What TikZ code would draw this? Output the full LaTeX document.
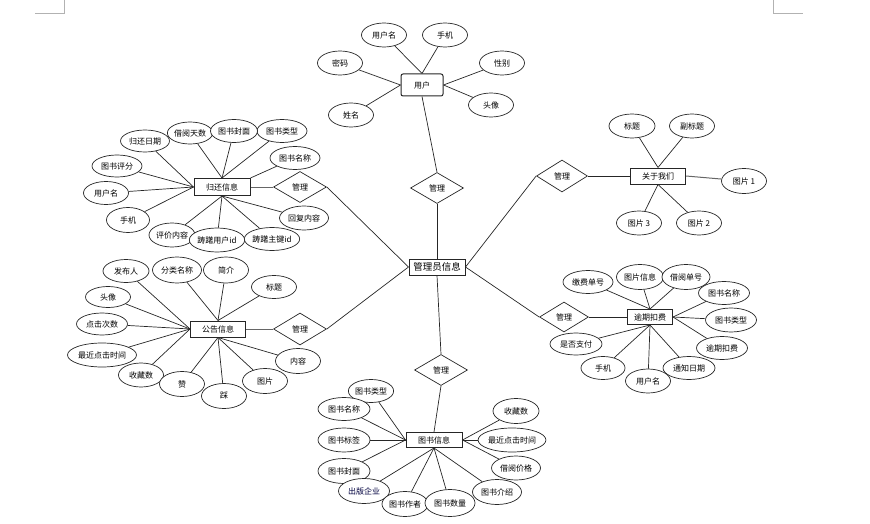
\documentclass[tikz,border=0pt]{standalone}
\usepackage{fontspec}
\newfontfamily\cjk{Noto Sans CJK SC}
\usetikzlibrary{shapes.geometric,backgrounds}
\begin{document}
\begin{tikzpicture}[x=1pt,y=-1pt,
 attr/.style={ellipse,draw=black!85,line width=0.7pt,fill=white,inner sep=0pt,minimum width=45pt,minimum height=24pt,font=\cjk\fontsize{8}{9}\selectfont},
 ent/.style={rectangle,draw=black!85,line width=1pt,fill=white,inner sep=0pt,minimum width=56pt,minimum height=17pt,font=\cjk\fontsize{8}{9}\selectfont},
 rel/.style={diamond,draw=black!85,line width=0.7pt,fill=white,inner sep=0pt,minimum width=53pt,minimum height=31pt,font=\cjk\fontsize{8}{9}\selectfont},
 ln/.style={draw=black!85,line width=0.7pt},
 cornermark/.style={draw=black!30,line width=0.6pt}]
\useasboundingbox (0,0) rectangle (870,524);
% page corner marks
\draw[cornermark] (35,13) -- (64,13) -- (64,0);
\draw[cornermark] (773,0) -- (773,13) -- (803,13);

% centre
\node[ent,minimum width=56pt,minimum height=16pt,font=\cjk\fontsize{9.5}{10}\selectfont] (gl) at (437,267) {管理员信息};

% user cluster
\node[ent,rounded corners=2pt,minimum width=42pt,minimum height=22pt] (yh) at (422,85) {用户};
\node[attr] (u1) at (384,35) {用户名};
\node[attr] (u2) at (445,35) {手机};
\node[attr] (u3) at (340,63) {密码};
\node[attr] (u4) at (502,63) {性别};
\node[attr] (u5) at (491,105) {头像};
\node[attr] (u6) at (351,115) {姓名};
\node[rel] (r1) at (437,188) {管理};

% return-info cluster
\node[ent] (gh) at (222,187) {归还信息};
\node[rel] (rgh) at (300,187) {管理};
\node[attr,minimum width=49pt,minimum height=22pt] (g1) at (145,141) {归还日期};
\node[attr,minimum height=22pt] (g2) at (190,133) {借阅天数};
\node[attr,minimum width=50pt,minimum height=23pt] (g4) at (282,131) {图书类型};
\node[attr,minimum width=47pt,minimum height=23pt] (g3) at (234,131) {图书封面};
\node[attr,minimum width=50pt,minimum height=23pt] (g5) at (295,158) {图书名称};
\node[attr,minimum width=50pt,minimum height=22pt] (g6) at (117,166) {图书评分};
\node[attr,minimum height=23pt] (g7) at (106,193) {用户名};
\node[attr,minimum width=43pt,minimum height=25pt] (g8) at (128,220) {手机};
\node[attr,minimum width=46pt] (g9) at (172,235) {评价内容};
\node[attr,minimum width=55pt,minimum height=23pt] (g11) at (272,239) {踌躇主键id};
\node[attr,minimum width=51pt] (g10) at (217,240) {踌躇用户id};
\node[attr,minimum width=49pt] (g12) at (304,218) {回复内容};

% about-us cluster
\node[ent,minimum width=55pt,minimum height=16pt] (gy) at (658,176) {关于我们};
\node[rel,minimum width=51pt,minimum height=32pt] (rgy) at (562,176) {管理};
\node[attr,minimum width=46pt] (y1) at (632,126) {标题};
\node[attr] (y2) at (692,126) {副标题};
\node[attr,minimum height=25pt] (y3) at (744,181) {图片 1};
\node[attr] (y4) at (639,223) {图片 3};
\node[attr] (y5) at (699,223) {图片 2};

% notice cluster
\node[ent,minimum width=55pt,minimum height=16pt] (gg) at (218,329) {公告信息};
\node[rel,minimum height=32pt] (rgg) at (300,329) {管理};
\node[attr,minimum width=46pt,minimum height=23pt] (n1) at (126,271) {发布人};
\node[attr,minimum width=49pt,minimum height=26pt] (n2) at (177,270) {分类名称};
\node[attr,minimum height=26pt] (n3) at (226,270) {简介};
\node[attr,minimum height=23pt] (n4) at (274,287) {标题};
\node[attr,minimum height=21pt] (n5) at (108,297) {头像};
\node[attr,minimum width=51pt,minimum height=22pt] (n6) at (102,324) {点击次数};
\node[attr,minimum width=69pt] (n7) at (102,355) {最近点击时间};
\node[attr,minimum height=25pt] (n8) at (298,361) {内容};
\node[attr] (n9) at (141,375) {收藏数};
\node[attr,minimum height=25pt] (n10) at (182,384) {赞};
\node[attr,minimum height=25pt] (n11) at (224,396) {踩};
\node[attr,minimum height=25pt] (n12) at (265,381) {图片};

% overdue cluster
\node[ent,minimum width=45pt,minimum height=15pt] (yq) at (650,317) {逾期扣费};
\node[rel,minimum width=49pt,minimum height=30pt] (ryq) at (564,317) {管理};
\node[attr,minimum width=50pt,minimum height=23pt] (q1) at (588,282) {缴费单号};
\node[attr,minimum width=47pt,minimum height=25pt] (q2) at (640,277) {图片信息};
\node[attr,minimum width=48pt,minimum height=25pt] (q3) at (686,277) {借阅单号};
\node[attr,minimum width=51pt,minimum height=23pt] (q4) at (724,293) {图书名称};
\node[attr,minimum width=51pt] (q5) at (731,320) {图书类型};
\node[attr,minimum width=52pt,minimum height=22pt] (q6) at (576,344) {是否支付};
\node[attr,minimum width=51pt,minimum height=23pt] (q7) at (722,348) {逾期扣费};
\node[attr,minimum width=44pt,minimum height=23pt] (q8) at (603,368) {手机};
\node[attr,minimum width=52pt,minimum height=23pt] (q9) at (689,368) {通知日期};
\node[attr] (q10) at (648,381) {用户名};

% book cluster
\node[ent,minimum width=56pt,minimum height=15pt] (ts) at (434,440) {图书信息};
\node[rel] (rts) at (441,370) {管理};
\node[attr,minimum width=42pt,minimum height=23pt] (t1) at (371,391) {图书类型};
\node[attr,minimum width=52pt,minimum height=23pt] (t2) at (344,409) {图书名称};
\node[attr,minimum width=46pt,minimum height=25pt] (t3) at (516,411) {收藏数};
\node[attr,minimum width=52pt] (t4) at (344,440) {图书标签};
\node[attr,minimum width=58pt] (t5) at (512,440) {最近点击时间};
\node[attr,minimum width=49pt] (t6) at (516,468) {借阅价格};
\node[attr,minimum width=52pt,minimum height=25pt] (t7) at (344,471) {图书封面};
\node[attr,minimum width=51pt,minimum height=25pt,text=blue!25!black] (t8) at (364,491) {出版企业};
\node[attr,minimum width=49pt,minimum height=25pt] (t9) at (497,492) {图书介绍};
\node[attr,minimum width=46pt,minimum height=25pt] (t10) at (405,504) {图书作者};
\node[attr,minimum width=50pt,minimum height=27pt] (t11) at (450,503) {图书数量};

\begin{scope}[on background layer]
% centre to relations
\draw[ln] (yh.south) -- (r1.north);
\draw[ln] (r1.south) -- (gl.north);
\draw[ln] (gl.west) -- (rgh.east);
\draw[ln] (gl.west) -- (rgg.east);
\draw[ln] (gl.east) -- (rgy.west);
\draw[ln] (gl.east) -- (ryq.west);
\draw[ln] (gl.south) -- (rts.north);
\draw[ln,line width=1pt,draw=black!60] (gh.east) -- (rgh.west);
\draw[ln,line width=1pt,draw=black!60] (gg.east) -- (rgg.west);
\draw[ln] (gy.west) -- (rgy.east);
\draw[ln] (yq.west) -- (ryq.east);
\draw[ln] (rts.south) -- (ts.north);
% user
\draw[ln] (u1) -- (yh.north);
\draw[ln] (u2) -- (yh.north);
\draw[ln] (u3) -- (yh.west);
\draw[ln] (u6) -- (yh.west);
\draw[ln] (u4) -- (yh.east);
\draw[ln] (u5) -- (yh.east);
% return info
\foreach \n in {g1,g6,g7,g8} \draw[ln] (\n) -- (gh.west);
\foreach \n in {g2,g3,g4} \draw[ln] (\n) -- (gh.north);
\draw[ln] (g5) -- (gh.north east);
\foreach \n in {g9,g10,g11,g12} \draw[ln] (\n) -- (gh.south);
% about us
\draw[ln] (y1) -- (gy.north);
\draw[ln] (y2) -- (gy.north);
\draw[ln,line width=1pt,draw=black!60] (gy.east) -- (y3);
\draw[ln] (y4) -- (gy.south);
\draw[ln] (y5) -- (gy.south);
% notice
\foreach \n in {n1,n5,n6,n7,n9} \draw[ln] (\n) -- (gg.west);
\foreach \n in {n2,n3,n4} \draw[ln] (\n) -- (gg.north);
\foreach \n in {n8,n10,n11,n12} \draw[ln] (\n) -- (gg.south);
% overdue
\foreach \n in {q1,q2,q3} \draw[ln] (\n) -- (yq.north);
\foreach \n in {q4,q5,q7} \draw[ln] (\n) -- (yq.east);
\foreach \n in {q6,q8,q9,q10} \draw[ln] (\n) -- (yq.south);
% book
\foreach \n in {t1,t2,t4,t7} \draw[ln] (\n) -- (ts.west);
\foreach \n in {t8,t10,t11,t9} \draw[ln] (\n) -- (ts.south);
\foreach \n in {t3,t5,t6} \draw[ln] (\n) -- (ts.east);
\end{scope}
\end{tikzpicture}
\end{document}
